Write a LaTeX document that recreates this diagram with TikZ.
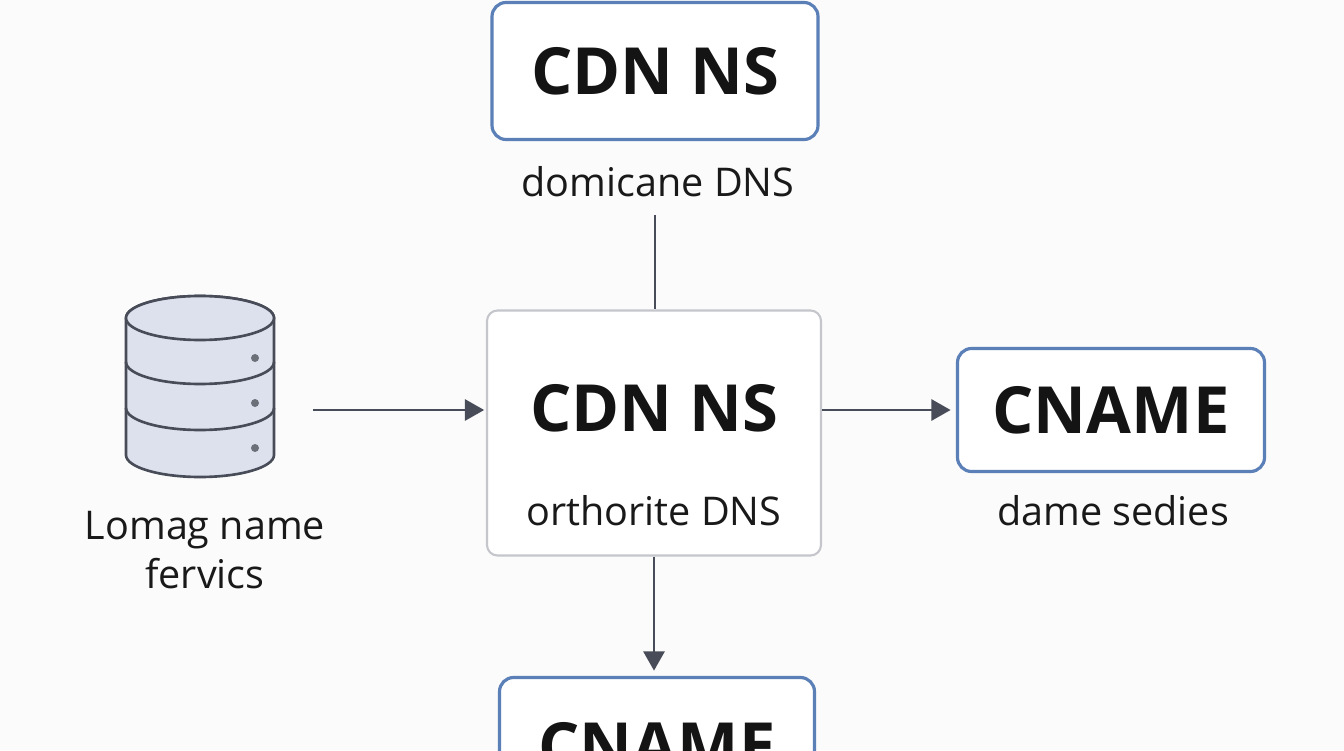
\documentclass[tikz,border=0pt]{standalone}
\usepackage{fontspec}
\setmainfont{Open Sans}
\usetikzlibrary{arrows.meta}
\definecolor{boxblue}{HTML}{5B80B8}
\definecolor{boxgray}{HTML}{C4C6CC}
\definecolor{linegray}{HTML}{474C58}
\definecolor{dbfill}{HTML}{DDE1EE}
\tikzset{
  bluebox/.style={draw=boxblue, line width=1.8pt, rounded corners=8pt, fill=white, inner sep=0pt},
  graybox/.style={draw=boxgray, line width=1.2pt, rounded corners=6pt, fill=white, inner sep=0pt},
  title/.style={font=\fontsize{37}{40}\selectfont\bfseries, text=black!92},
  sub/.style={font=\fontsize{22.5}{28}\selectfont, text=black!90},
  conn/.style={draw=linegray, line width=1.6pt},
  arr/.style={conn, -{Triangle[length=11pt,width=12pt]}}
}
\begin{document}
\begin{tikzpicture}
  \clip (0,0) rectangle (26.88,15);
  \fill[white!97!gray] (0,0) rectangle (26.88,15);
  % boxes
  \node[bluebox, minimum width=6.52cm, minimum height=2.74cm] (topns) at (13.10,13.58) {};
  \node[title] at (topns) {CDN NS};
  \node[sub] (domi) at (13.16,11.36) {domicane DNS};
  \node[graybox, minimum width=6.68cm, minimum height=4.9cm] (midns) at (13.08,6.34) {};
  \node[title] (midtitle) at (13.08,6.84) {CDN NS};
  \node[sub] (midsub) at (13.08,4.78) {orthorite DNS};
  \node[bluebox, minimum width=6.14cm, minimum height=2.46cm] (cname) at (22.22,6.80) {};
  \node[title] at (cname) {CNAME};
  \node[sub] (dame) at (22.26,4.78) {dame sedies};
  \node[bluebox, minimum width=6.3cm, minimum height=2.74cm] (botname) at (13.14,0.08) {};
  \node[title] at (13.14,0.08) {CNAME};
  % database
  \begin{scope}[draw=linegray, line width=1.5pt, fill=dbfill]
    \filldraw (2.52,8.64) -- (2.52,5.9) arc[start angle=180, end angle=360, x radius=1.48, y radius=0.44]
      -- (5.48,8.64) arc[start angle=0, end angle=180, x radius=1.48, y radius=0.44];
    \draw (2.52,7.76) arc[start angle=180, end angle=360, x radius=1.48, y radius=0.44];
    \draw (2.52,6.84) arc[start angle=180, end angle=360, x radius=1.48, y radius=0.44];
    \filldraw (4.0,8.64) ellipse[x radius=1.48, y radius=0.44];
  \end{scope}
  \foreach \y in {7.84,6.94,6.04}
    \fill[linegray!80] (5.1,\y) circle (0.08);
  \node[sub, align=center] (lomag) at (4.1,4.0) {Lomag name\\fervics};
  % connectors
  \coordinate (dbout) at (6.26,6.8);
  \coordinate (domiend) at (13.10,10.7);
  \draw[conn] (domiend) -- (midns.north -| domiend);
  \draw[arr, shorten >=1pt] (dbout) -- (midns.west |- dbout);
  \draw[arr, shorten >=3pt] (midns.east |- cname.west) -- (cname.west);
  \draw[arr, shorten >=3pt] (midns.south) -- (botname.north -| midns.south);
\end{tikzpicture}
\end{document}
